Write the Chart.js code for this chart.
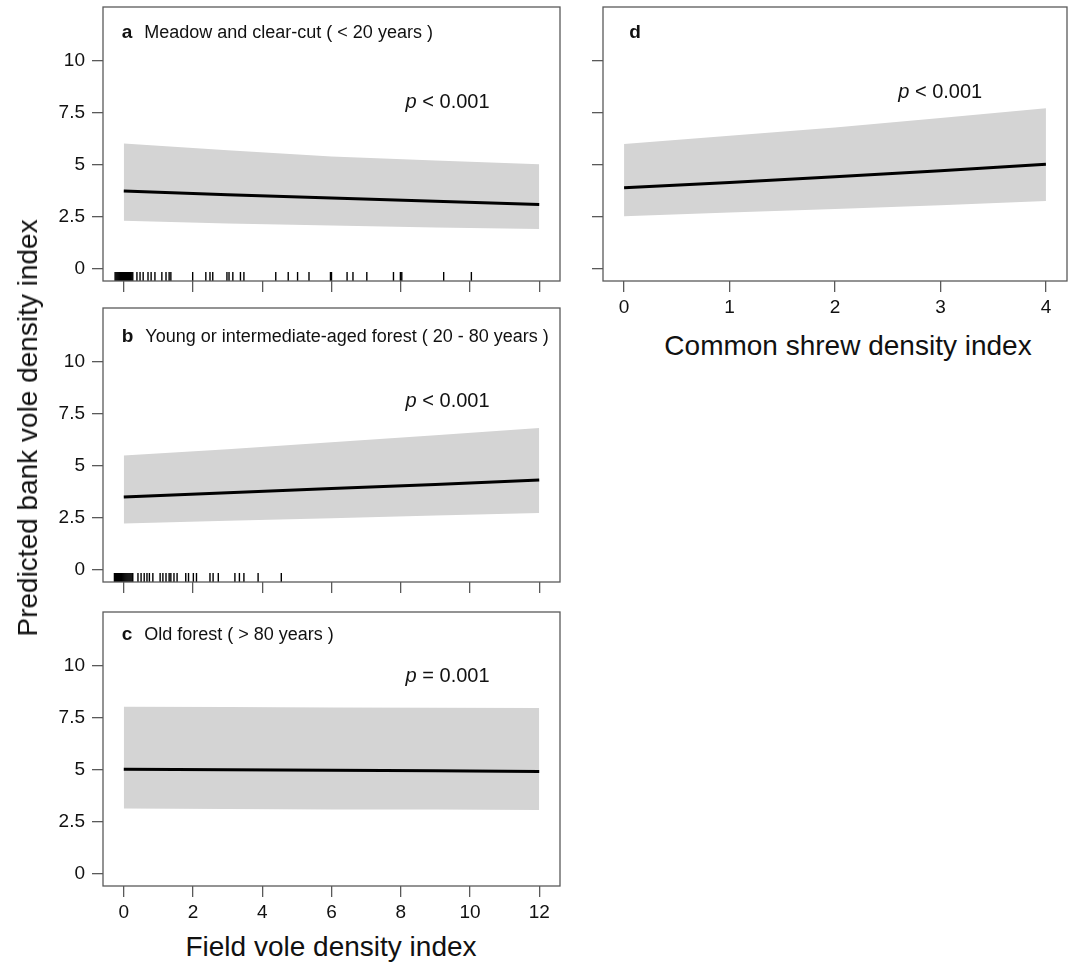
<!DOCTYPE html>
<html>
<head>
<meta charset="utf-8">
<script src="https://cdn.jsdelivr.net/npm/chart.js@4.4.1/dist/chart.umd.min.js"></script>
<style>
  body { margin: 0; background: #fff; }
  #wrap { position: relative; width: 1074px; height: 963px; font-family: 'Liberation Sans', Arial, sans-serif; color: #111; }
  canvas { position: absolute; }
  .title { position: absolute; font-size: 28px; white-space: nowrap; transform: translate(-50%, -50%); }
</style>
</head>
<body>
<div id="wrap">
  <canvas id="chartA" width="570" height="300" style="left:0;top:0"></canvas>
  <canvas id="chartB" width="570" height="300" style="left:0;top:300px"></canvas>
  <canvas id="chartC" width="570" height="330" style="left:0;top:600px"></canvas>
  <canvas id="chartD" width="504" height="330" style="left:570px;top:0"></canvas>
  <div class="title" style="left:28px;top:428px;transform:translate(-50%,-50%) rotate(-90deg)">Predicted bank vole density index</div>
  <div class="title" style="left:331px;top:947px">Field vole density index</div>
  <div class="title" style="left:848px;top:346px">Common shrew density index</div>
</div>
<script>
// field vole density index (x) for panels a-c
const fieldVoleX = [0, 3, 6, 9, 12];
const fieldVoleTicks = [0, 2, 4, 6, 8, 10, 12];

// a - meadow and clear-cut
const meadowFit = [3.73, 3.56, 3.40, 3.24, 3.09];
const meadowUpper = [6.03, 5.70, 5.40, 5.20, 5.02];
const meadowLower = [2.30, 2.17, 2.07, 1.98, 1.91];
const meadowRug = [-0.25, -0.22, -0.19, -0.16, -0.13, -0.10, -0.07, -0.04, -0.01, 0.02, 0.05, 0.08, 0.11, 0.14, 0.17, 0.20, 0.23, 0.26,
  0.38, 0.47, 0.56, 0.70, 0.79, 0.90, 1.10, 1.22, 1.31, 1.36, 1.99, 2.37, 2.49, 2.57, 2.98, 3.04, 3.15, 3.37, 3.47,
  4.39, 4.75, 5.02, 5.35, 5.97, 6.00, 6.45, 6.62, 7.02, 7.79, 7.99, 8.03, 9.24, 10.04];

// b - young or intermediate-aged forest
const youngFit = [3.50, 3.70, 3.90, 4.10, 4.31];
const youngUpper = [5.49, 5.80, 6.13, 6.47, 6.82];
const youngLower = [2.22, 2.35, 2.47, 2.60, 2.72];
const youngRug = [-0.27, -0.24, -0.21, -0.18, -0.15, -0.12, -0.09, -0.06, -0.03, 0.00, 0.03, 0.06, 0.09, 0.12, 0.15, 0.18, 0.21, 0.24, 0.26,
  0.41, 0.50, 0.59, 0.67, 0.74, 0.84, 1.05, 1.13, 1.22, 1.31, 1.36, 1.45, 1.54, 1.79, 1.87, 2.01, 2.10,
  2.49, 2.58, 2.73, 3.21, 3.34, 3.47, 3.88, 4.55];

// c - old forest
const oldFit = [5.03, 5.00, 4.98, 4.95, 4.92];
const oldUpper = [8.04, 8.02, 8.00, 7.99, 7.97];
const oldLower = [3.13, 3.11, 3.09, 3.08, 3.06];

// d - common shrew
const shrewX = [0, 1, 2, 3, 4];
const shrewTicks = [0, 1, 2, 3, 4];
const shrewFit = [3.89, 4.15, 4.42, 4.71, 5.02];
const shrewUpper = [6.00, 6.40, 6.80, 7.25, 7.72];
const shrewLower = [2.52, 2.70, 2.87, 3.05, 3.25];

const densityTicks = [0, 2.5, 5, 7.5, 10];
const densityTickLabels = ['0', '2.5', '5', '7.5', '10'];

const FONT = "'Liberation Sans', Arial, sans-serif";
const AXIS_GREY = '#5a5a5a';

const pts = (xs, ys) => xs.map((x, i) => ({ x: x, y: ys[i] }));

// box round the plot area
const boxPlugin = {
  id: 'box',
  afterDraw(chart) {
    const a = chart.chartArea, ctx = chart.ctx;
    ctx.save();
    ctx.strokeStyle = AXIS_GREY;
    ctx.lineWidth = 1.3;
    ctx.strokeRect(a.left, a.top, a.right - a.left, a.bottom - a.top);
    ctx.restore();
  }
};

// rug marks along the bottom
const rugPlugin = {
  id: 'rug',
  afterDatasetsDraw(chart, args, opts) {
    if (!opts.values) return;
    const ctx = chart.ctx, xs = chart.scales.x, b = chart.chartArea.bottom;
    ctx.save();
    ctx.strokeStyle = '#000';
    ctx.lineWidth = 1.4;
    opts.values.forEach(v => {
      const px = xs.getPixelForValue(v);
      ctx.beginPath();
      ctx.moveTo(px, b);
      ctx.lineTo(px, b - 9);
      ctx.stroke();
    });
    ctx.restore();
  }
};

// panel letter, habitat text and p value
const notePlugin = {
  id: 'note',
  afterDraw(chart, args, o) {
    const ctx = chart.ctx, xs = chart.scales.x, ys = chart.scales.y;
    ctx.save();
    ctx.fillStyle = '#111';
    ctx.textBaseline = 'middle';
    ctx.textAlign = 'left';
    let lx = xs.getPixelForValue(o.labelX), ly = ys.getPixelForValue(o.labelY);
    ctx.font = 'bold 19px ' + FONT;
    ctx.fillText(o.letter, lx, ly);
    const lw = ctx.measureText(o.letter).width;
    if (o.text) {
      ctx.font = '18px ' + FONT;
      ctx.fillText(o.text, lx + lw + 12, ly);
    }
    let px = xs.getPixelForValue(o.pX), py = ys.getPixelForValue(o.pY);
    ctx.font = 'italic 20px ' + FONT;
    ctx.fillText('p', px, py);
    const pw = ctx.measureText('p').width;
    ctx.font = '20px ' + FONT;
    ctx.fillText(' ' + o.pText, px + pw, py);
    ctx.restore();
  }
};

function noPad(s) {
  s.paddingTop = 0; s.paddingBottom = 0; s.paddingLeft = 0; s.paddingRight = 0;
}

function makePanel(id, cfg) {
  const tickFont = { family: FONT, size: 19 };
  new Chart(document.getElementById(id), {
    type: 'line',
    data: {
      datasets: [
        { data: pts(cfg.xs, cfg.fit), borderColor: '#000', borderWidth: 3, pointRadius: 0, fill: false },
        { data: pts(cfg.xs, cfg.upper), borderColor: 'rgba(0,0,0,0)', borderWidth: 0, pointRadius: 0,
          backgroundColor: '#d4d4d4', fill: '+1' },
        { data: pts(cfg.xs, cfg.lower), borderColor: 'rgba(0,0,0,0)', borderWidth: 0, pointRadius: 0, fill: false }
      ]
    },
    options: {
      responsive: false,
      animation: false,
      layout: { padding: cfg.padding },
      plugins: {
        legend: { display: false },
        tooltip: { enabled: false },
        rug: { values: cfg.rug },
        note: cfg.note
      },
      scales: {
        x: {
          type: 'linear',
          min: cfg.xMin, max: cfg.xMax,
          afterBuildTicks: s => { s.ticks = cfg.xTicks.map(v => ({ value: v })); },
          afterFit: s => { s.height = cfg.xHeight; noPad(s); },
          border: { display: false },
          grid: { drawOnChartArea: false, drawTicks: true, tickLength: 11, color: AXIS_GREY, lineWidth: 1.3 },
          ticks: { display: cfg.xLabels, font: tickFont, color: '#111', padding: 4, maxRotation: 0, autoSkip: false,
                   callback: v => String(v) }
        },
        y: {
          min: -0.6, max: 12.6,
          afterBuildTicks: s => { s.ticks = densityTicks.map(v => ({ value: v })); },
          afterFit: s => { s.width = cfg.yWidth; noPad(s); },
          border: { display: false },
          grid: { drawOnChartArea: false, drawTicks: true, tickLength: 11, color: AXIS_GREY, lineWidth: 1.3 },
          ticks: { display: cfg.yLabels, font: tickFont, color: '#111', padding: 7,
                   callback: v => densityTickLabels[densityTicks.indexOf(v)] }
        }
      }
    },
    plugins: [rugPlugin, boxPlugin, notePlugin]
  });
}

makePanel('chartA', {
  xs: fieldVoleX, fit: meadowFit, upper: meadowUpper, lower: meadowLower, rug: meadowRug,
  xMin: -0.6, xMax: 12.6, xTicks: fieldVoleTicks, xLabels: false, yLabels: true,
  padding: { top: 7, right: 10, left: 0, bottom: 0 }, xHeight: 19, yWidth: 103,
  note: { letter: 'a', text: 'Meadow and clear-cut ( < 20 years )', labelX: -0.06, labelY: 11.35, pX: 8.14, pY: 8.0, pText: '< 0.001' }
});

makePanel('chartB', {
  xs: fieldVoleX, fit: youngFit, upper: youngUpper, lower: youngLower, rug: youngRug,
  xMin: -0.6, xMax: 12.6, xTicks: fieldVoleTicks, xLabels: false, yLabels: true,
  padding: { top: 8, right: 10, left: 0, bottom: 0 }, xHeight: 18, yWidth: 103,
  note: { letter: 'b', text: 'Young or intermediate-aged forest ( 20 - 80 years )', labelX: -0.06, labelY: 11.2, pX: 8.14, pY: 8.08, pText: '< 0.001' }
});

makePanel('chartC', {
  xs: fieldVoleX, fit: oldFit, upper: oldUpper, lower: oldLower, rug: null,
  xMin: -0.6, xMax: 12.6, xTicks: fieldVoleTicks, xLabels: true, yLabels: true,
  padding: { top: 12, right: 10, left: 0, bottom: 0 }, xHeight: 44, yWidth: 103,
  note: { letter: 'c', text: 'Old forest ( > 80 years )', labelX: -0.06, labelY: 11.5, pX: 8.14, pY: 9.5, pText: '= 0.001' }
});

makePanel('chartD', {
  xs: shrewX, fit: shrewFit, upper: shrewUpper, lower: shrewLower, rug: null,
  xMin: -0.2, xMax: 4.2, xTicks: shrewTicks, xLabels: true, yLabels: false,
  padding: { top: 7, right: 7, left: 0, bottom: 0 }, xHeight: 49, yWidth: 33,
  note: { letter: 'd', text: '', labelX: 0.05, labelY: 11.35, pX: 2.6, pY: 8.47, pText: '< 0.001' }
});
</script>
</body>
</html>
